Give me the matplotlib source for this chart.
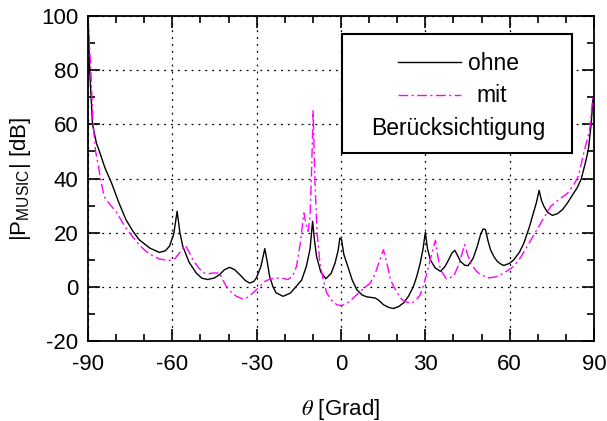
import matplotlib
matplotlib.use("Agg")
import matplotlib.pyplot as plt
from matplotlib.lines import Line2D
from matplotlib.patches import Rectangle
from matplotlib.ticker import MultipleLocator

# Spektrum ohne Berücksichtigung (schwarz)
ohne_theta = [-90, -89.4, -88.4, -87, -86.1, -84, -81.5, -79, -76.5, -74, -71.8, -68, -64.6,
              -62.5, -61, -59.5, -58.3, -57.3, -56.3, -54, -51.5, -49.5, -47.4, -45, -43.2,
              -41.5, -39.6, -37.8, -36, -34, -32.5, -31, -30.1, -28.5, -27.1, -26.2, -25.4,
              -24.2, -23.1, -20.6, -18, -15.9, -14, -12.3, -11, -10.1, -9.4, -8.7, -7.2, -5.4,
              -3.5, -2.1, -1, -0.4, 0.2, 1, 2.6, 4, 5.6, 7.5, 9.2, 12.1, 13.5, 15.1, 17, 18.7,
              20.5, 22.3, 24, 25.8, 27, 28.2, 29.2, 30, 30.8, 31.8, 33.5, 35.4, 37, 38.3, 39.5,
              40.5, 41.5, 42.5, 44, 45.2, 47, 48.5, 49.7, 50.6, 51.4, 52.3, 53.2, 54.5, 55.6,
              57, 58, 60, 61.5, 63.5, 65.1, 67, 68.1, 69.5, 70.5, 71.3, 72.2, 73.5, 75.2, 77,
              78.8, 80.6, 82.4, 84, 85.4, 87, 88, 89, 89.7]
ohne_db = [100, 80, 60, 53, 50.5, 44, 38, 31, 24.8, 20.5, 17.4, 14.3, 12.7,
           13.3, 15, 19.5, 27.9, 20, 15, 9, 5.1, 3.2, 2.7, 3.3, 4.5,
           6.3, 7.2, 6.3, 4.5, 2.3, 1.4, 2, 3.3, 7.5, 14.1, 9, 3.9,
           0, -2.2, -3.5, -2.3, 0.2, 2.5, 7.6, 14, 24.2, 17, 11.3, 5.5, 3.0,
           5, 8.8, 13.5, 18.0, 17.5, 12, 7, 2.5, -1, -3, -3.7, -4.1, -5, -6.6, -7.6, -8.0,
           -7.3, -5.9, -3.5, 0.2, 4, 8.8, 14, 20.1, 14, 10, 7, 5.7, 7.5, 10, 12.5,
           13.5, 11.5, 9.4, 8, 7.8, 10.5, 15, 19.5, 21.4, 21.1, 17, 13.7, 11, 9.4,
           8.3, 7.9, 8.7, 10, 12.8, 16.2, 22, 26, 31, 35.6, 32, 29.7, 27.5, 26.4, 27,
           28.5, 31, 34, 36.5, 39.6, 46, 50.6, 60, 70]

# Spektrum mit Berücksichtigung (magenta)
mit_theta = [-90, -89, -88.2, -87.3, -86.3, -85.5, -84.3, -82.3, -80.1, -77, -74.2, -71.8,
             -69.4, -67, -64.6, -61.1, -59, -57.5, -55.4, -54, -52.7, -51, -49.2, -47.5,
             -45.6, -43.2, -42, -40.8, -39, -37.2, -34.9, -33, -31.3, -29, -27.1, -25, -23,
             -21, -18.8, -17.2, -15.8, -14.5, -13.2, -12.4, -11.7, -11, -10.4, -9.9, -9.3,
             -8.5, -7.5, -6.3, -5.1, -3.3, -1.5, 0, 1.5, 3.5, 5.6, 8, 10.4, 12, 13.5, 15.1,
             16.5, 17.5, 18.7, 20.2, 21.7, 23.5, 25.3, 26.8, 28.2, 29.5, 31.2, 32.5, 33.6,
             34.5, 35.4, 37.5, 40.1, 42, 44, 45, 46.1, 48, 49.6, 52.6, 55, 56.8, 59, 61.5,
             64, 66.3, 68.8, 71.1, 74.6, 77, 80.6, 83, 84.5, 86.5, 88.5, 89.7]
mit_db = [100, 80, 60, 50, 44.5, 39.6, 33.4, 30.5, 27.9, 22.5, 18.6, 15.5,
          13.1, 11.5, 10.3, 9.7, 10.5, 12.5, 15.3, 12.8, 10, 7.5, 5.3, 4.8,
          5.1, 5.1, 2.5, 0.2, -2, -3.5, -4.5, -3.8, -2.2, 0, 2.0, 3, 3.3,
          3.2, 2.7, 4, 7.6, 16, 27.3, 23, 20.5, 26, 45, 65, 39.6,
          20, 8.8, 2.5, -2.2, -5, -6.6, -6.9, -6.5, -5, -2.9, -0.7, 1.4, 4.5, 9, 13.7,
          8, 3, 0.2, -2.5, -4.7, -5.7, -5.9, -4.8, -2.9, 1, 7.6, 13, 17.2,
          11, 6.3, 2.9, 3.9, 8.5, 15.6, 12, 8.8, 6, 4.5, 3.3, 3.7, 4.5, 5.8, 7.6,
          11, 15, 19.5, 23.6, 29.7, 31.8, 34.6, 38, 41, 50, 58, 71]

x_ticks = [-90, -60, -30, 0, 30, 60, 90]
y_ticks = [-20, 0, 20, 40, 60, 80, 100]

plt.rcParams["font.family"] = ["Liberation Sans", "DejaVu Sans"]
plt.rcParams["mathtext.fontset"] = "stix"
plt.rcParams["axes.unicode_minus"] = False

fig = plt.figure(figsize=(6.07, 4.21), dpi=100)
ax = fig.add_axes([0.145, 0.19, 0.8335, 0.772])

ax.plot(ohne_theta, ohne_db, color="black", lw=1.0)
ax.plot(mit_theta, mit_db, color="#ff00ff", lw=1.0, dashes=(7, 2.5, 1.5, 2.5))

ax.set_xlim(-90, 90)
ax.set_ylim(-20, 100)
ax.set_xticks(x_ticks)
ax.set_yticks(y_ticks)
ax.xaxis.set_minor_locator(MultipleLocator(10))
ax.yaxis.set_minor_locator(MultipleLocator(10))
ax.tick_params(which="both", direction="in", top=True, right=True, width=1.2, labelsize=16)
ax.tick_params(which="major", length=8.5)
ax.tick_params(axis="x", which="major", pad=9)
ax.tick_params(axis="y", which="major", pad=7)
ax.tick_params(which="minor", length=5)
for s in ax.spines.values():
    s.set_linewidth(1.3)
ax.grid(True, which="major", color="black", lw=0.9, linestyle=(0, (1.5, 4)))
ax.set_axisbelow(True)

ax.set_xlabel(r"$\theta$ [Grad]", fontsize=16, labelpad=16)
ax.set_ylabel(r"|P$_{\mathregular{MUSIC}}$| [dB]", fontsize=16, labelpad=6)

# Legende von Hand, wie im Original
tr = ax.transAxes
ax.add_patch(Rectangle((0.502, 0.578), 0.455, 0.367, transform=tr, facecolor="white",
                       edgecolor="black", lw=1.5, zorder=5))
ax.add_line(Line2D([0.613, 0.737], [0.857, 0.857], transform=tr, color="black", lw=1.0, zorder=6))
ax.add_line(Line2D([0.613, 0.737], [0.757, 0.757], transform=tr, color="#ff00ff", lw=1.0,
                   dashes=(7, 2.5, 1.5, 2.5), zorder=6))
ax.text(0.751, 0.834, "ohne", transform=tr, fontsize=16.5, va="baseline", ha="left", zorder=7)
ax.text(0.767, 0.736, "mit", transform=tr, fontsize=16.5, va="baseline", ha="left", zorder=7)
ax.text(0.731, 0.634, "Berücksichtigung", transform=tr, fontsize=16.5, va="baseline",
        ha="center", zorder=7)

fig.savefig("out.png", dpi=100)
